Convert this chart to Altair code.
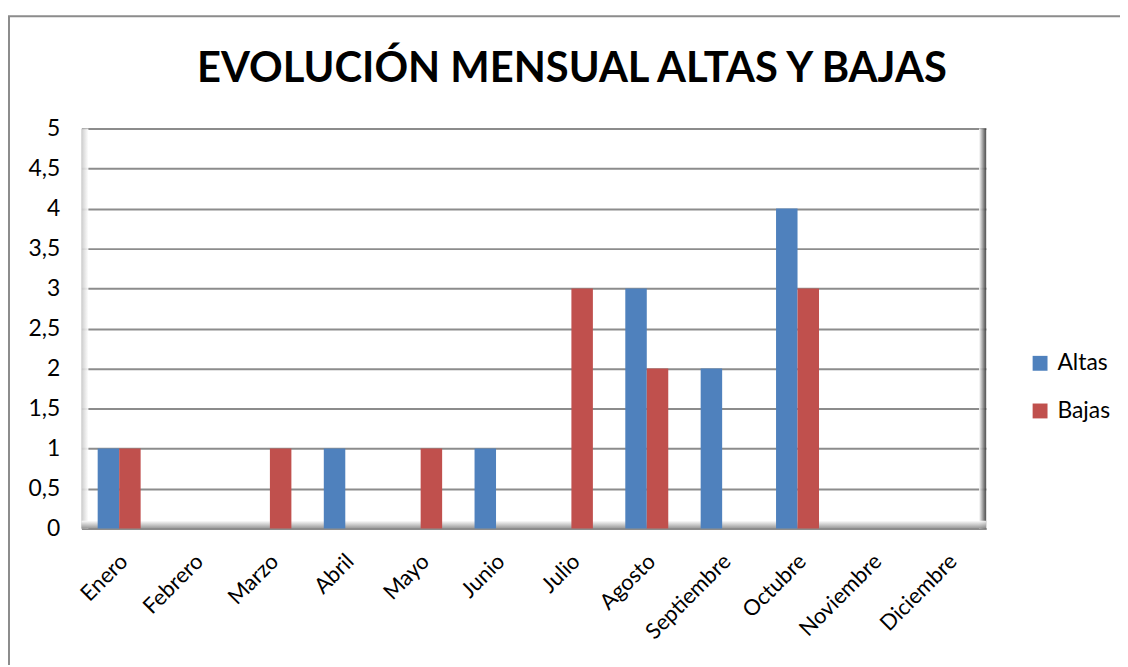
import altair as alt
import pandas as pd

months = ["Enero", "Febrero", "Marzo", "Abril", "Mayo", "Junio", "Julio",
          "Agosto", "Septiembre", "Octubre", "Noviembre", "Diciembre"]
altas = [1, 0, 0, 1, 0, 1, 0, 3, 2, 4, 0, 0]
bajas = [1, 0, 1, 0, 1, 0, 3, 2, 0, 3, 0, 0]
series = ["Altas", "Bajas"]
colors = ["#4F81BD", "#C0504D"]
title_text = "EVOLUCIÓN MENSUAL ALTAS Y BAJAS"

rows = []
for m, a, b in zip(months, altas, bajas):
    rows.append({"mes": m, "serie": "Altas", "valor": a})
    rows.append({"mes": m, "serie": "Bajas", "valor": b})
df = pd.DataFrame(rows)

FONT = "Lato"
W, H = 911, 403
one = pd.DataFrame({"k": [0]})


def grad(c0, c1, horizontal):
    return alt.Gradient(
        gradient="linear",
        stops=[alt.GradientStop(color=c0, offset=0), alt.GradientStop(color=c1, offset=1)],
        x1=0, y1=0, x2=1 if horizontal else 0, y2=0 if horizontal else 1,
    )


frame = alt.Chart(one).mark_rect(
    fill="transparent", stroke="#8c8c8c", strokeWidth=2
).encode(
    x=alt.value(-73), x2=alt.value(1070),
    y=alt.value(-113), y2=alt.value(600)
)

shade_left = alt.Chart(one).mark_rect(fill=grad("#c8c8c8", "#ffffff", True), opacity=0.9).encode(
    x=alt.value(0), x2=alt.value(7), y=alt.value(0), y2=alt.value(H)
)
shade_right = alt.Chart(one).mark_rect(fill=grad("#ffffff", "#3a3a3a", True), opacity=0.9).encode(
    x=alt.value(W - 7), x2=alt.value(W), y=alt.value(0), y2=alt.value(H)
)
shade_bottom = alt.Chart(one).mark_rect(fill=grad("#ffffff", "#8a8a8a", False), opacity=0.9).encode(
    x=alt.value(0), x2=alt.value(W), y=alt.value(H - 8), y2=alt.value(H)
)

title = alt.Chart(pd.DataFrame({"t": [title_text]})).mark_text(
    font=FONT, fontSize=42, fontWeight="bold", color="#000",
    align="center", baseline="alphabetic"
).encode(text="t:N", x=alt.value(494), y=alt.value(-47))

bars = alt.Chart(df).mark_bar().encode(
    x=alt.X("mes:N", sort=months, title=None,
            scale=alt.Scale(paddingInner=0.43, paddingOuter=0.215),
            axis=alt.Axis(labelAngle=-45, labelAlign="right", labelBaseline="top",
                          labelFontSize=22, labelFont=FONT, labelColor="#000",
                          labelPadding=22, labelOffset=-2, ticks=False,
                          domain=True, domainColor="#8c8c8c", domainWidth=2)),
    xOffset=alt.XOffset("serie:N", sort=series),
    y=alt.Y("valor:Q", title=None,
            scale=alt.Scale(domain=[0, 5]),
            axis=alt.Axis(values=[0, 0.5, 1, 1.5, 2, 2.5, 3, 3.5, 4, 4.5, 5],
                          labelExpr="replace(toString(datum.value), '.', ',')",
                          labelFontSize=23, labelFont=FONT, labelColor="#000",
                          labelPadding=22, ticks=False, domain=False,
                          grid=True, gridColor="#8c8c8c", gridWidth=2)),
    color=alt.Color("serie:N", sort=series,
                    scale=alt.Scale(domain=series, range=colors),
                    legend=alt.Legend(title=None, orient="none", legendX=954, legendY=225,
                                      symbolType="square", symbolSize=225,
                                      symbolStrokeWidth=0,
                                      labelFontSize=23, labelFont=FONT, labelColor="#000",
                                      rowPadding=24, labelOffset=6, padding=0)),
)

chart = alt.layer(frame, shade_left, shade_right, shade_bottom, bars, title).properties(
    width=W, height=H,
    autosize=alt.AutoSizeParams(type="none"),
    padding={"left": 74, "top": 119, "right": 135, "bottom": 135},
).configure_view(stroke="#8c8c8c", strokeWidth=2).configure(background="white")

chart.save("out.html", embed_options={"renderer": "svg", "actions": False})
